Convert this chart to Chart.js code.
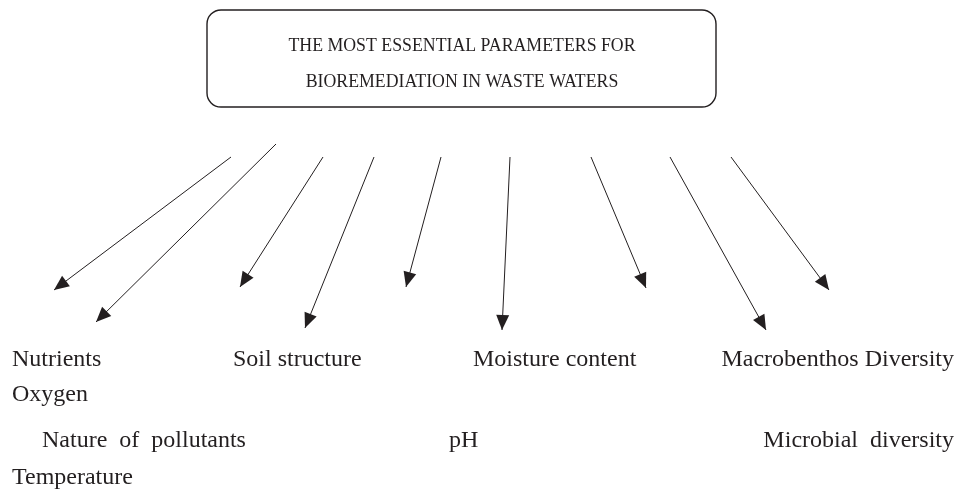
<!DOCTYPE html>
<html>
<head>
<meta charset="utf-8">
<script src="https://cdn.jsdelivr.net/npm/chart.js@4.4.0/dist/chart.umd.min.js"></script>
<style>
  body { margin: 0; background: #fff; }
  #wrap { width: 959px; height: 499px; position: relative; }
</style>
</head>
<body>
<div id="wrap"><canvas id="diagram"></canvas></div>
<script>
// title box
const titleLines = ['THE MOST ESSENTIAL PARAMETERS FOR', 'BIOREMEDIATION IN WASTE WATERS'];

// arrows: start (x0,y0) -> tip (x1,y1), in page units
const arrowX0 = [231, 276, 323, 374, 441, 510, 591, 670, 731];
const arrowY0 = [157, 144, 157, 157, 157, 157, 157, 157, 157];
const arrowX1 = [54, 96, 240, 305, 406, 502, 646, 766, 829];
const arrowY1 = [290, 322, 287, 328, 287, 330, 288, 330, 290];

// labels under the arrows
const labelText = ['Nutrients', 'Soil structure', 'Moisture content', 'Macrobenthos Diversity',
  'Oxygen', 'Nature of pollutants', 'pH', 'Microbial diversity', 'Temperature'];
const labelX = [12, 233, 473, 954, 12, 42, 449, 954, 12];
const labelY = [366, 366, 366, 366, 401, 447, 447, 447, 484];
const labelAlign = ['left', 'left', 'left', 'right', 'left', 'left', 'left', 'right', 'left'];
const labelWordGap = [0, 0, 0, 0, 0, 6, 0, 6, 0];

const ink = '#231f20';

const datasets = arrowX0.map((x, i) => ({
  data: [{x: x, y: arrowY0[i]}, {x: arrowX1[i], y: arrowY1[i]}],
  showLine: true,
  borderColor: ink,
  borderWidth: 1,
  pointRadius: 0,
  fill: false
}));

const diagramPlugin = {
  id: 'diagram',
  beforeDatasetsDraw(chart) {
    const ctx = chart.ctx;
    const xs = chart.scales.x, ys = chart.scales.y;
    // rounded title box
    const bx0 = xs.getPixelForValue(207), bx1 = xs.getPixelForValue(716);
    const by0 = ys.getPixelForValue(10), by1 = ys.getPixelForValue(107);
    ctx.save();
    ctx.strokeStyle = ink;
    ctx.lineWidth = 1.4;
    ctx.beginPath();
    ctx.roundRect(bx0, by0, bx1 - bx0, by1 - by0, 14);
    ctx.stroke();
    ctx.fillStyle = ink;
    ctx.font = '17.8px "Liberation Serif", "Times New Roman", serif';
    ctx.textAlign = 'center';
    ctx.textBaseline = 'alphabetic';
    ctx.fillText(titleLines[0], xs.getPixelForValue(462), ys.getPixelForValue(51));
    ctx.fillText(titleLines[1], xs.getPixelForValue(462), ys.getPixelForValue(87));
    ctx.restore();
  },
  afterDatasetsDraw(chart) {
    const ctx = chart.ctx;
    const xs = chart.scales.x, ys = chart.scales.y;
    ctx.save();
    ctx.fillStyle = ink;
    // arrowheads at each line's end
    chart.data.datasets.forEach(ds => {
      const a = ds.data[0], b = ds.data[1];
      const px0 = xs.getPixelForValue(a.x), py0 = ys.getPixelForValue(a.y);
      const px1 = xs.getPixelForValue(b.x), py1 = ys.getPixelForValue(b.y);
      const ang = Math.atan2(py1 - py0, px1 - px0);
      const len = 15, half = 6.5;
      const bxp = px1 - len * Math.cos(ang), byp = py1 - len * Math.sin(ang);
      ctx.beginPath();
      ctx.moveTo(px1, py1);
      ctx.lineTo(bxp + half * Math.sin(ang), byp - half * Math.cos(ang));
      ctx.lineTo(bxp - half * Math.sin(ang), byp + half * Math.cos(ang));
      ctx.closePath();
      ctx.fill();
    });
    // labels
    ctx.font = '24px "Liberation Serif", "Times New Roman", serif';
    ctx.textBaseline = 'alphabetic';
    labelText.forEach((t, i) => {
      ctx.textAlign = labelAlign[i];
      ctx.wordSpacing = labelWordGap[i] + 'px';
      ctx.fillText(t, xs.getPixelForValue(labelX[i]), ys.getPixelForValue(labelY[i]));
    });
    ctx.restore();
  }
};

new Chart(document.getElementById('diagram'), {
  type: 'scatter',
  data: { datasets },
  options: {
    responsive: true,
    maintainAspectRatio: false,
    animation: false,
    layout: { padding: 0 },
    plugins: { legend: { display: false }, tooltip: { enabled: false } },
    scales: {
      x: { type: 'linear', min: 0, max: 959, display: false },
      y: { type: 'linear', min: 0, max: 499, reverse: true, display: false }
    }
  },
  plugins: [diagramPlugin]
});
</script>
</body>
</html>
